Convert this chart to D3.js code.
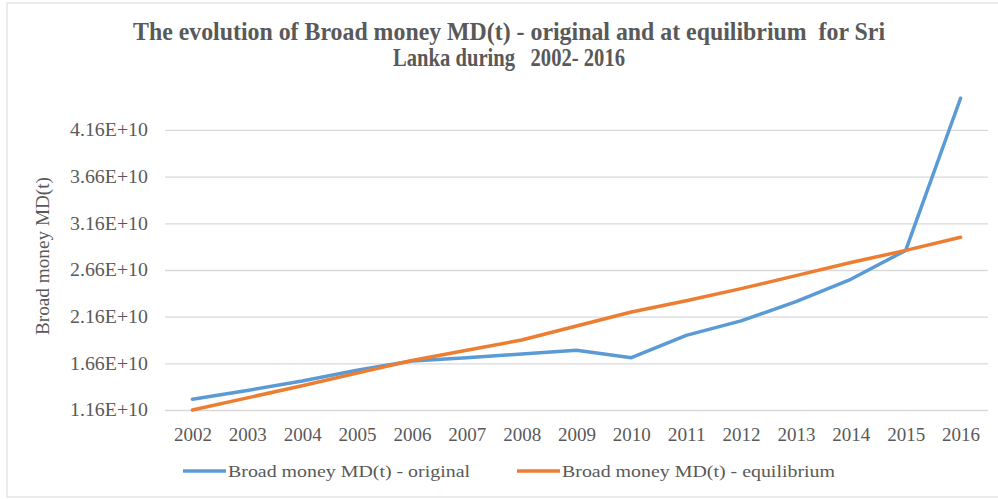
<!DOCTYPE html>
<html>
<head>
<meta charset="utf-8">
<script src="https://cdn.jsdelivr.net/npm/d3@7"></script>
<style>
  body { margin: 0; background: #fff; }
  text { font-family: "Liberation Serif", "Times New Roman", serif; fill: #595959; }
</style>
</head>
<body>
<svg id="chart" width="998" height="499"></svg>
<script>
const years = ['2002', '2003', '2004', '2005', '2006', '2007', '2008', '2009',
  '2010', '2011', '2012', '2013', '2014', '2015', '2016'];

const originalValues = [1.275e10, 1.37e10, 1.47e10, 1.585e10, 1.685e10, 1.72e10, 1.76e10, 1.80e10,
  1.72e10, 1.96e10, 2.115e10, 2.32e10, 2.56e10, 2.87e10, 4.50e10];

const equilibriumValues = [1.16e10, 1.29e10, 1.42e10, 1.555e10, 1.69e10, 1.80e10, 1.91e10, 2.06e10,
  2.21e10, 2.33e10, 2.46e10, 2.60e10, 2.74e10, 2.87e10, 3.01e10];

const yTicks = [1.16e10, 1.66e10, 2.16e10, 2.66e10, 3.16e10, 3.66e10, 4.16e10];
const yTickLabels = ['1.16E+10', '1.66E+10', '2.16E+10', '2.66E+10', '3.16E+10', '3.66E+10', '4.16E+10'];

const seriesNames = ['Broad money MD(t) - original', 'Broad money MD(t) - equilibrium'];
const colors = ['#5b9bd5', '#ed7d31'];

const plot = {left: 165, right: 988, top: 83.3, bottom: 410};

const svg = d3.select('#chart');

// outer frame
svg.append('rect')
  .attr('x', 7).attr('y', 3)
  .attr('width', 1000).attr('height', 494)
  .attr('fill', 'none')
  .attr('stroke', '#d9d9d9');

const xScale = d3.scalePoint().domain(years).range([plot.left, plot.right]).padding(0.5);
const yScale = d3.scaleLinear().domain([1.16e10, 4.66e10]).range([plot.bottom, plot.top]);

// gridlines + y labels
const yAxis = d3.axisLeft(yScale)
  .tickValues(yTicks)
  .tickSize(-(plot.right - plot.left))
  .tickPadding(17)
  .tickFormat((d, i) => yTickLabels[i]);

svg.append('g')
  .attr('class', 'y axis')
  .attr('transform', `translate(${plot.left}, 0)`)
  .call(yAxis)
  .call(g => g.select('.domain').remove())
  .call(g => g.selectAll('line').attr('stroke', '#d9d9d9').attr('stroke-width', 1.3))
  .call(g => g.selectAll('text')
    .style('font-size', '18px')
    .attr('textLength', 78)
    .attr('lengthAdjust', 'spacingAndGlyphs')
    .attr('fill', '#595959'));

// x labels
svg.append('g')
  .attr('class', 'x axis')
  .attr('transform', `translate(0, ${plot.bottom})`)
  .call(d3.axisBottom(xScale).tickSize(0).tickPadding(18))
  .call(g => g.select('.domain').remove())
  .call(g => g.selectAll('text')
    .style('font-size', '18px')
    .attr('textLength', 38)
    .attr('lengthAdjust', 'spacingAndGlyphs')
    .attr('fill', '#595959'));

// y axis title
svg.append('text')
  .attr('transform', 'translate(49, 256) rotate(-90)')
  .attr('text-anchor', 'middle')
  .attr('textLength', 158)
  .attr('lengthAdjust', 'spacingAndGlyphs')
  .style('font-size', '18px')
  .text('Broad money MD(t)');

// title
const titleLines = ['The evolution of Broad money MD(t) - original and at equilibrium  for Sri',
  'Lanka during   2002- 2016'];
const titleWidths = [752, 232];
svg.selectAll('.title')
  .data(titleLines)
  .enter().append('text')
  .attr('class', 'title')
  .attr('x', 509)
  .attr('y', (d, i) => 40 + i * 26)
  .attr('text-anchor', 'middle')
  .attr('textLength', (d, i) => titleWidths[i])
  .attr('lengthAdjust', 'spacingAndGlyphs')
  .style('font-size', '25px')
  .style('font-weight', 'bold')
  .style('white-space', 'pre')
  .attr('fill', '#404040')
  .text(d => d);

// lines
const line = d3.line()
  .x((d, i) => xScale(years[i]))
  .y(d => yScale(d));

[originalValues, equilibriumValues].forEach((values, k) => {
  svg.append('path')
    .datum(values)
    .attr('fill', 'none')
    .attr('stroke', colors[k])
    .attr('stroke-width', 3.5)
    .attr('stroke-linejoin', 'round')
    .attr('stroke-linecap', 'round')
    .attr('d', line);
});

// legend
const legendItems = [
  {x: 183, width: 242},
  {x: 517, width: 273}
];
legendItems.forEach((item, k) => {
  const g = svg.append('g').attr('transform', `translate(${item.x}, 471)`);
  g.append('line')
    .attr('x1', 0).attr('x2', 43)
    .attr('y1', 0).attr('y2', 0)
    .attr('stroke', colors[k])
    .attr('stroke-width', 3.5);
  g.append('text')
    .attr('x', 45)
    .attr('y', 6)
    .attr('textLength', item.width)
    .attr('lengthAdjust', 'spacingAndGlyphs')
    .style('font-size', '17.5px')
    .text(seriesNames[k]);
});
</script>
</body>
</html>
